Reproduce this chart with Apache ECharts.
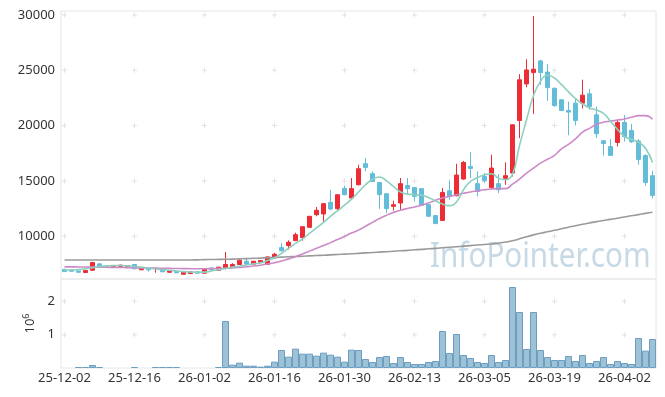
<!DOCTYPE html>
<html lang="en">
<head>
    <meta charset="UTF-8">
    <script type="text/javascript" src="https://cdn.jsdelivr.net/npm/echarts@6.0.0/dist/echarts.min.js"></script>
    <style>
        html, body {
            margin: 0;
            overflow: hidden;
            background: #fff;
        }
        #viewport {
            position: absolute;
            left: 0px;
            top: 0px;
            width: 665px;
            height: 397px;
        }
    </style>
</head>
<body>
<div id="viewport"></div>
<script>
    var dates = [
        '25-12-02', '25-12-03', '25-12-04', '25-12-05', '25-12-08', '25-12-09', '25-12-10', '25-12-11', '25-12-12', '25-12-15',
        '25-12-16', '25-12-17', '25-12-18', '25-12-19', '25-12-22', '25-12-23', '25-12-24', '25-12-26', '25-12-29', '25-12-30',
        '26-01-02', '26-01-05', '26-01-06', '26-01-07', '26-01-08', '26-01-09', '26-01-12', '26-01-13', '26-01-14', '26-01-15',
        '26-01-16', '26-01-19', '26-01-20', '26-01-21', '26-01-22', '26-01-23', '26-01-26', '26-01-27', '26-01-28', '26-01-29',
        '26-01-30', '26-02-02', '26-02-03', '26-02-04', '26-02-05', '26-02-06', '26-02-09', '26-02-10', '26-02-11', '26-02-12',
        '26-02-13', '26-02-19', '26-02-20', '26-02-23', '26-02-24', '26-02-25', '26-02-26', '26-02-27', '26-03-03', '26-03-04',
        '26-03-05', '26-03-06', '26-03-09', '26-03-10', '26-03-11', '26-03-12', '26-03-13', '26-03-16', '26-03-17', '26-03-18',
        '26-03-19', '26-03-20', '26-03-23', '26-03-24', '26-03-25', '26-03-26', '26-03-27', '26-03-30', '26-03-31', '26-04-01',
        '26-04-02', '26-04-03', '26-04-06', '26-04-07', '26-04-08'
    ];

    var open = [
        7000, 6950, 6860, 6715, 6920, 7500, 7290, 7200, 7260, 7200,
        7440, 6960, 7060, 7060, 7000, 6740, 6830, 6560, 6620, 6780,
        6650, 7120, 6920, 7080, 7230, 7440, 7740, 7470, 7650, 7440,
        8040, 8970, 9150, 9600, 9870, 10800, 11950, 12010, 13060, 12490,
        14320, 13450, 14650, 16560, 15650, 14860, 13840, 12700, 13000, 14590,
        14410, 14300, 12850, 11860, 11430, 14110, 13660, 15170, 16310, 14750,
        15400, 14410, 14750, 15230, 15710, 20460, 23770, 24790, 25850, 24840,
        23380, 22330, 21360, 22030, 22030, 22870, 20970, 18630, 18110, 18470,
        20280, 19560, 18600, 17300, 15470
    ];
    var close = [
        6800, 6830, 6740, 6900, 7620, 7230, 7260, 7290, 7380, 7350,
        7050, 7100, 6960, 7100, 6780, 6850, 6690, 6740, 6780, 6650,
        6990, 6950, 7200, 7440, 7440, 7830, 7470, 7740, 7800, 8130,
        8370, 8700, 9450, 10140, 10860, 11800, 12340, 12940, 12460, 13750,
        13750, 14300, 16100, 16220, 14950, 13750, 12490, 12850, 14750, 14300,
        13600, 12800, 11800, 11140, 13960, 13600, 15530, 16670, 16130, 14050,
        15020, 16160, 14200, 15470, 20070, 24140, 25030, 25100, 24790, 23430,
        21810, 21360, 21220, 20460, 22750, 21720, 19260, 18380, 17300, 20280,
        18990, 18540, 16940, 14860, 13690
    ];
    var low = [
        6760, 6800, 6700, 6700, 6900, 7200, 7230, 7180, 7240, 7100,
        7020, 6940, 6800, 6700, 6760, 6700, 6670, 6540, 6600, 6630,
        6630, 6900, 6900, 6990, 7210, 7400, 7450, 7450, 7560, 7420,
        8000, 8580, 8790, 9560, 9600, 10780, 11800, 11200, 12340, 12330,
        13700, 13400, 14600, 15860, 14900, 12460, 12100, 12310, 12400, 13820,
        13150, 12750, 11750, 11100, 11400, 13300, 13600, 15100, 15260, 13600,
        14810, 14300, 13900, 14650, 15400, 18870, 23470, 21060, 23680, 22240,
        21700, 21300, 19130, 20010, 21550, 21430, 18870, 17300, 17250, 18110,
        18560, 18420, 16460, 14570, 13420
    ];
    var high = [
        7040, 6980, 6900, 6920, 7640, 7520, 7320, 7320, 7420, 7380,
        7460, 7120, 7080, 7120, 7020, 6870, 6850, 6760, 6800, 6800,
        7010, 7140, 7220, 8580, 7560, 7920, 7980, 7760, 7850, 8150,
        8490, 9390, 9630, 10320, 10880, 11820, 12640, 12960, 14200, 13780,
        14570, 15260, 16460, 17060, 15860, 14900, 13900, 13210, 15260, 15260,
        14450, 14350, 12900, 11900, 14360, 15050, 16550, 16800, 17600, 15860,
        15710, 17360, 15620, 16670, 20100, 24650, 26000, 29910, 25940, 25580,
        23420, 22400, 22170, 22480, 24150, 23320, 21720, 18700, 18780, 20520,
        20950, 20160, 18780, 17400, 15920
    ];

    var ma5 = [
        6950, 6940, 6980, 7050, 7150, 7250, 7320, 7350, 7350, 7320,
        7260, 7200, 7120, 7040, 6980, 6920, 6860, 6800, 6760, 6740,
        6750, 6850, 6960, 7080, 7200, 7290, 7400, 7500, 7590, 7800,
        8050, 8450, 8900, 9350, 9750, 10250, 10750, 11250, 11800, 12300,
        12800, 13350, 14000, 14650, 15150, 15350, 15000, 14500, 14000, 13800,
        13750, 13700, 13500, 13200, 12900, 12760, 13100, 14200, 14950, 15300,
        15550, 15650, 15250, 15100, 15600, 18200, 20500, 22700, 24000, 24550,
        24300, 23700, 23050, 22450, 21950, 21600, 21400, 21100, 20400, 19650,
        19000, 18750, 18500, 17950, 16670
    ];
    var ma20 = [
        7230, 7225, 7220, 7210, 7205, 7200, 7190, 7180, 7170, 7160,
        7140, 7130, 7120, 7110, 7100, 7090, 7080, 7070, 7060, 7060,
        7060, 7070, 7080, 7100, 7130, 7180, 7240, 7300, 7380, 7480,
        7600, 7750, 7950, 8150, 8400, 8650, 8900, 9150, 9420, 9700,
        9980, 10280, 10550, 10900, 11250, 11600, 11900, 12150, 12350, 12500,
        12640, 12800, 13000, 13250, 13450, 13600, 13750, 13880, 14000, 14100,
        14200, 14270, 14300, 14300, 14700, 15150, 15700, 16150, 16600, 16950,
        17300, 17900, 18300, 18800, 19400, 19750, 20100, 20300, 20400, 20500,
        20600, 20750, 20900, 20900, 20580
    ];
    var ma120 = [
        7850, 7850, 7850, 7850, 7850, 7850, 7850, 7850, 7850, 7850,
        7850, 7850, 7850, 7850, 7850, 7850, 7850, 7850, 7850, 7860,
        7880, 7890, 7900, 7910, 7930, 7950, 7970, 8000, 8020, 8050,
        8080, 8110, 8140, 8170, 8190, 8220, 8250, 8280, 8310, 8350,
        8380, 8410, 8450, 8490, 8520, 8560, 8600, 8640, 8680, 8720,
        8770, 8810, 8860, 8900, 8950, 9000, 9050, 9100, 9150, 9200,
        9250, 9300, 9380, 9470, 9580, 9760, 9950, 10120, 10270, 10400,
        10530, 10670, 10810, 10950, 11080, 11200, 11320, 11420, 11520, 11630,
        11740, 11850, 11950, 12060, 12160
    ];

    // volume, in millions of shares
    var volume = [
        0, 0, 0.03, 0.03, 0.09, 0.03, 0, 0, 0, 0,
        0.03, 0, 0, 0.03, 0.03, 0.03, 0.03, 0, 0, 0,
        0, 0, 0.03, 1.41, 0.10, 0.16, 0.07, 0.07, 0.04, 0.07,
        0.19, 0.54, 0.34, 0.58, 0.43, 0.43, 0.37, 0.46, 0.40, 0.34,
        0.19, 0.55, 0.54, 0.27, 0.18, 0.33, 0.36, 0.15, 0.33, 0.18,
        0.12, 0.12, 0.18, 0.21, 1.11, 0.45, 1.02, 0.39, 0.30, 0.18,
        0.15, 0.39, 0.18, 0.24, 2.43, 1.68, 0.57, 1.68, 0.54, 0.33,
        0.24, 0.24, 0.36, 0.21, 0.39, 0.15, 0.21, 0.33, 0.12, 0.21,
        0.15, 0.12, 0.90, 0.52, 0.87
    ];

    var priceTicks = [10000, 15000, 20000, 25000, 30000];
    var volumeTicks = [1, 2];

    var FONT = 'Noto Sans';
    var labelStep = 10;
    var UP = '#ec2d35';
    var DOWN = '#64bdd8';

    var candles = dates.map(function (d, i) {
        return [open[i], close[i], low[i], high[i]];
    });
    // days without trades get no outline, so nothing is drawn there
    var volumeItems = volume.map(function (v) {
        return v > 0 ? v : { value: v, itemStyle: { borderWidth: 0, opacity: 0 } };
    });
    var tickDates = dates.filter(function (d, i) { return i % labelStep === 0; });
    function crossData(values) {
        var out = [];
        tickDates.forEach(function (d) {
            values.forEach(function (v) { out.push([d, v]); });
        });
        return out;
    }
    var crossSymbol = 'path://M2,0H3V2H5V3H3V5H2V3H0V2H2Z';

    function maLine(name, data, color) {
        return {
            name: name,
            type: 'line',
            xAxisIndex: 0,
            yAxisIndex: 0,
            data: data,
            smooth: true,
            showSymbol: false,
            symbol: 'none',
            lineStyle: { color: color, width: 1.6 },
            z: 4
        };
    }

    function plainNumber(v) {
        return String(v);
    }

    var myChart = echarts.init(document.getElementById('viewport'), null, { renderer: 'canvas' });

    var option = {
        animation: false,
        backgroundColor: '#fff',
        textStyle: { fontFamily: FONT },
        grid: [
            { left: 61, right: 9, top: 11, height: 268, show: true, borderColor: '#e6e6e6', borderWidth: 1 },
            { left: 61, right: 9, top: 279, height: 89, show: true, borderColor: '#e6e6e6', borderWidth: 1 }
        ],
        xAxis: [
            {
                type: 'category', gridIndex: 0, data: dates, boundaryGap: true,
                axisLine: { show: false }, axisTick: { show: false },
                axisLabel: { show: false }, splitLine: { show: false }
            },
            {
                type: 'category', gridIndex: 1, data: dates, boundaryGap: true,
                axisLine: { show: false }, axisTick: { show: false },
                axisLabel: { interval: labelStep - 1, color: '#333', fontSize: 13, fontFamily: FONT, margin: 4 },
                splitLine: { show: false }
            }
        ],
        yAxis: [
            {
                type: 'value', gridIndex: 0, min: 6130, max: 30360,
                axisLine: { show: false }, axisTick: { show: false },
                splitLine: { show: false },
                axisLabel: {
                    color: '#333', fontSize: 13, fontFamily: FONT, margin: 6,
                    showMinLabel: false, showMaxLabel: false, formatter: plainNumber
                }
            },
            {
                type: 'value', gridIndex: 1, min: 0, max: 2.67, interval: 1,
                axisLine: { show: false }, axisTick: { show: false },
                splitLine: { show: false },
                axisLabel: {
                    color: '#333', fontSize: 13, fontFamily: FONT, margin: 6,
                    showMinLabel: false, showMaxLabel: false, formatter: plainNumber
                },
                name: '{b|10}{s|6}',
                nameLocation: 'middle',
                nameGap: 22,
                nameTextStyle: {
                    rich: {
                        b: { fontSize: 13, color: '#333', fontFamily: FONT, lineHeight: 16 },
                        s: { fontSize: 9, color: '#333', fontFamily: FONT, verticalAlign: 'top', lineHeight: 16 }
                    }
                }
            }
        ],
        graphic: [
            {
                type: 'text',
                x: 430,
                y: 257,
                scaleX: 0.87,
                silent: true,
                z: 1,
                style: {
                    text: 'InfoPointer.com',
                    font: '34px "Noto Sans"',
                    fill: '#c6d9e5',
                    verticalAlign: 'middle'
                }
            }
        ],
        series: [
            {
                type: 'scatter', xAxisIndex: 0, yAxisIndex: 0, silent: true,
                data: crossData(priceTicks), symbol: crossSymbol, symbolSize: 5,
                itemStyle: { color: '#dcdcdc' }, z: 1
            },
            {
                type: 'scatter', xAxisIndex: 1, yAxisIndex: 1, silent: true,
                data: crossData(volumeTicks), symbol: crossSymbol, symbolSize: 5,
                itemStyle: { color: '#dcdcdc' }, z: 1
            },
            {
                name: 'price',
                type: 'candlestick',
                xAxisIndex: 0,
                yAxisIndex: 0,
                data: candles,
                barWidth: 4,
                itemStyle: {
                    color: UP,
                    color0: DOWN,
                    borderColor: UP,
                    borderColor0: DOWN,
                    borderWidth: 1
                },
                emphasis: { disabled: true },
                z: 3
            },
            maLine('MA120', ma120, '#9a9a9a'),
            maLine('MA20', ma20, '#cc8ac8'),
            maLine('MA5', ma5, '#8fcfc0'),
            {
                name: 'volume',
                type: 'bar',
                xAxisIndex: 1,
                yAxisIndex: 1,
                data: volumeItems,
                barCategoryGap: '0%',
                itemStyle: { color: '#9dc2d5', borderColor: '#6b9ec2', borderWidth: 1 },
                z: 3
            }
        ]
    };

    myChart.setOption(option);
</script>
</body>
</html>
